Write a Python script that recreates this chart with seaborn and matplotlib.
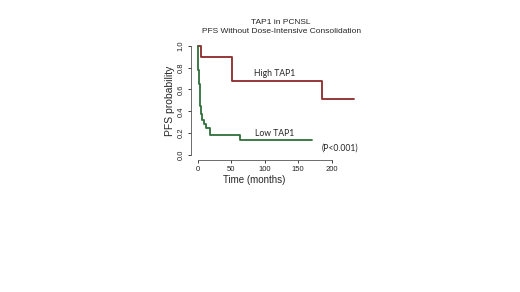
import pandas as pd
import numpy as np
import matplotlib.pyplot as plt
import seaborn as sns

sns.set_style('white')
plt.rcParams['font.family'] = ['Liberation Sans', 'DejaVu Sans']

# 생존곡선 값
high_t = [0, 5.5, 51, 185, 233]
high_s = [1.0, 0.9, 0.675, 0.51, 0.51]
low_t = [0, 1, 2, 3, 4, 5, 6, 9, 12, 19, 64, 170]
low_s = [1.0, 0.78, 0.65, 0.53, 0.45, 0.38, 0.32, 0.28, 0.25, 0.18, 0.135, 0.135]

df = pd.concat([
    pd.DataFrame({'time': high_t, 'pfs': high_s, 'group': 'High TAP1'}),
    pd.DataFrame({'time': low_t, 'pfs': low_s, 'group': 'Low TAP1'}),
])

fig = plt.figure(figsize=(5.2, 2.92), dpi=100)
ax = fig.add_axes([0.367, 0.452, 0.316, 0.406])

sns.lineplot(data=df, x='time', y='pfs', hue='group', estimator=None, sort=False,
             palette={'High TAP1': '#8b2a2a', 'Low TAP1': '#2f6e3a'},
             drawstyle='steps-post', linewidth=1.3, legend=False, ax=ax)

ax.set_xlim(-10, 235)
ax.set_ylim(-0.046, 1.04)
ax.set_xticks([0, 50, 100, 150, 200])
ax.set_yticks([0.0, 0.2, 0.4, 0.6, 0.8, 1.0])
ax.set_yticklabels(['0.0', '0.2', '0.4', '0.6', '0.8', '1.0'], rotation=90, va='center')
for s in ['top', 'right']:
    ax.spines[s].set_visible(False)
ax.spines['bottom'].set_bounds(0, 200)
ax.spines['left'].set_bounds(0, 1)
for s in ['bottom', 'left']:
    ax.spines[s].set_color('#555555')
    ax.spines[s].set_linewidth(0.6)
ax.tick_params(axis='both', labelsize=5.5, length=2.5, width=0.6, colors='#222222', pad=2, left=True, bottom=True)

ax.set_xlabel('Time (months)', fontsize=7, labelpad=1)
ax.xaxis.set_label_coords(0.385, -0.13)
ax.set_ylabel('PFS probability', fontsize=7.5, labelpad=2)
ax.set_title('TAP1 in PCNSL\nPFS Without Dose-Intensive Consolidation', fontsize=6, linespacing=1.35, pad=6, x=0.55)

ax.text(115, 0.75, 'High TAP1', fontsize=6.2, ha='center', va='center', family=['Lato', 'DejaVu Sans'])
ax.text(115, 0.2, 'Low TAP1', fontsize=6.2, ha='center', va='center', family=['Lato', 'DejaVu Sans'])
ax.text(212, 0.065, '(P<0.001)', fontsize=6.2, ha='center', va='center', family=['Lato', 'DejaVu Sans'])

plt.savefig('out.png', dpi=100)
